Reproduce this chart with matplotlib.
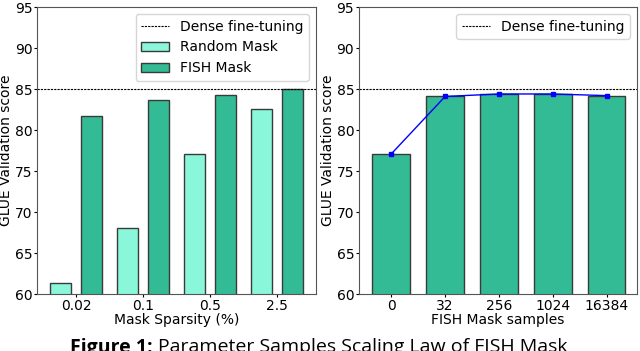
import numpy as np
import matplotlib
matplotlib.use("Agg")
import matplotlib.pyplot as plt

# left panel
sparsity = ["0.02", "0.1", "0.5", "2.5"]
random_mask = [61.3, 68.1, 77.1, 82.6]
fish_mask = [81.7, 83.7, 84.3, 85.0]
dense = 85.0

# right panel
samples = ["0", "32", "256", "1024", "16384"]
fish_samples = [77.1, 84.1, 84.4, 84.4, 84.2]

c_rand = "#8AF6DA"
c_fish = "#33BB96"
edge = "#3a3a3a"

plt.rcParams["font.size"] = 10
plt.rcParams["xtick.major.size"] = 2
plt.rcParams["ytick.major.size"] = 2
plt.rcParams["xtick.major.pad"] = 1.5
plt.rcParams["ytick.major.pad"] = 1.5
fig = plt.figure(figsize=(6.4, 3.51), dpi=100)
ax1 = fig.add_axes([0.058, 0.162, 0.436, 0.818])
ax2 = fig.add_axes([0.561, 0.162, 0.434, 0.818])

x = np.arange(len(sparsity))
ax1.axhline(dense, color="black", linestyle=(0, (2, 1)), linewidth=0.8, label="Dense fine-tuning")
ax1.bar(x - 0.23, random_mask, width=0.31, color=c_rand, edgecolor=edge, linewidth=1, label="Random Mask")
ax1.bar(x + 0.23, fish_mask, width=0.31, color=c_fish, edgecolor=edge, linewidth=1, label="FISH Mask")
ax1.set_xticks(x)
ax1.set_xticklabels(sparsity)
ax1.set_xlim(-0.58, 3.58)
ax1.set_ylim(60, 95)
ax1.set_xlabel("Mask Sparsity (%)", labelpad=0)
ax1.set_ylabel("GLUE Validation score", labelpad=1)
ax1.legend(loc="upper right")

x2 = np.arange(len(samples))
ax2.axhline(dense, color="black", linestyle=(0, (2, 1)), linewidth=0.8, label="Dense fine-tuning")
ax2.bar(x2, fish_samples, width=0.7, color=c_fish, edgecolor=edge, linewidth=1)
ax2.plot(x2, fish_samples, color="blue", marker="s", markersize=3, linewidth=1)
ax2.set_xticks(x2)
ax2.set_xticklabels(samples)
ax2.set_xlim(-0.6, 4.56)
ax2.set_ylim(60, 95)
ax2.set_xlabel("FISH Mask samples", labelpad=0)
ax2.set_ylabel("GLUE Validation score", labelpad=1)
ax2.legend(loc="upper right")

for ax in (ax1, ax2):
    ax.set_yticks(range(60, 96, 5))
    for s in ax.spines.values():
        s.set_color("#555555")

# caption: bold label followed by plain text, same font
cap_y = 1 - 338 / 351
renderer = fig.canvas.get_renderer()
t1 = fig.text(70 / 640, cap_y, "Figure 1:", ha="left", va="top", fontsize=14,
              family="Open Sans", weight="bold")
bb = t1.get_window_extent(renderer)
fig.text((bb.x1 + 5) / 640, cap_y, "Parameter Samples Scaling Law of FISH Mask",
         ha="left", va="top", fontsize=14, family="Open Sans")

fig.savefig("out.png", dpi=100)
